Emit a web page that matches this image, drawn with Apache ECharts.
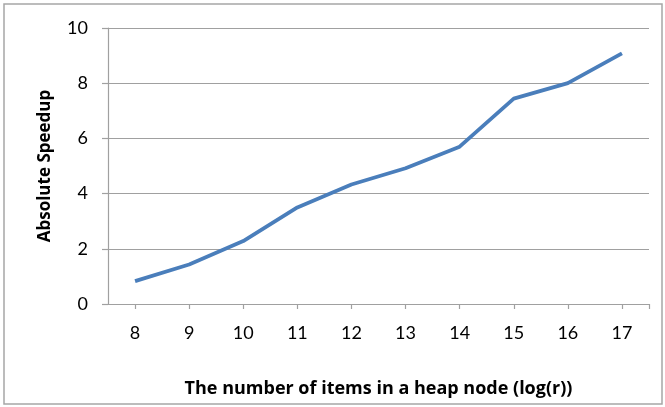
<!DOCTYPE html>
<html>
<head>
<meta charset="utf-8">
<script src="https://cdn.jsdelivr.net/npm/echarts@6/dist/echarts.min.js"></script>
<style>html,body{margin:0;padding:0;background:#fff}#c{width:665px;height:407px}</style>
</head>
<body>
<div id="c"></div>
<script>
var categories = [8, 9, 10, 11, 12, 13, 14, 15, 16, 17];
var speedup = [0.83, 1.43, 2.28, 3.50, 4.33, 4.92, 5.70, 7.44, 8.00, 9.08];
var yTicks = [0, 2, 4, 6, 8, 10];
var xTitle = 'The number of items in a heap node (log(r))';
var yTitle = 'Absolute Speedup';

var chart = echarts.init(document.getElementById('c'), null, {renderer: 'canvas'});
var fontFam = 'Lato, "Open Sans", sans-serif';
var titleFam = '"Open Sans", Lato, sans-serif';
var tickVals = categories.concat([categories[categories.length - 1] + 0.5]);
chart.setOption({
  animation: false,
  backgroundColor: '#fff',
  graphic: [{
    type: 'rect', shape: {x: 4, y: 4, width: 658, height: 400},
    style: {fill: 'none', stroke: '#a6a6a6', lineWidth: 1.5}, silent: true
  }],
  grid: {left: 108, right: 16, top: 28, bottom: 103, containLabel: false},
  xAxis: {
    type: 'value',
    min: categories[0] - 0.5,
    max: categories[categories.length - 1] + 0.5,
    name: xTitle,
    nameLocation: 'middle',
    nameGap: 76,
    nameTextStyle: {fontFamily: titleFam, fontWeight: 'bold', fontSize: 18, color: '#000'},
    axisLine: {show: true, lineStyle: {color: '#a0a0a0', width: 1.2}},
    axisTick: {show: true, length: 5, inside: false, customValues: tickVals, lineStyle: {color: '#a0a0a0', width: 1.2}},
    axisLabel: {customValues: categories, margin: 20, fontFamily: fontFam, fontSize: 18, color: '#000'},
    splitLine: {show: false}
  },
  yAxis: {
    type: 'value', min: yTicks[0], max: yTicks[yTicks.length - 1], interval: 2,
    name: yTitle,
    nameLocation: 'middle',
    nameGap: 54,
    nameTextStyle: {fontFamily: titleFam, fontWeight: 'bold', fontSize: 17, color: '#000'},
    axisLine: {show: true, lineStyle: {color: '#a0a0a0', width: 1.2}},
    axisTick: {show: true, length: 6, inside: false, lineStyle: {color: '#a0a0a0', width: 1.2}},
    axisLabel: {margin: 20, fontFamily: fontFam, fontSize: 18, color: '#000'},
    splitLine: {show: true, lineStyle: {color: '#a0a0a0', width: 1.2}}
  },
  series: [{
    type: 'line',
    data: categories.map(function (c, i) { return [c, speedup[i]]; }),
    symbol: 'none',
    lineStyle: {color: '#4a7ebb', width: 3.8},
    itemStyle: {color: '#4a7ebb'}
  }]
});
</script>
</body>
</html>
